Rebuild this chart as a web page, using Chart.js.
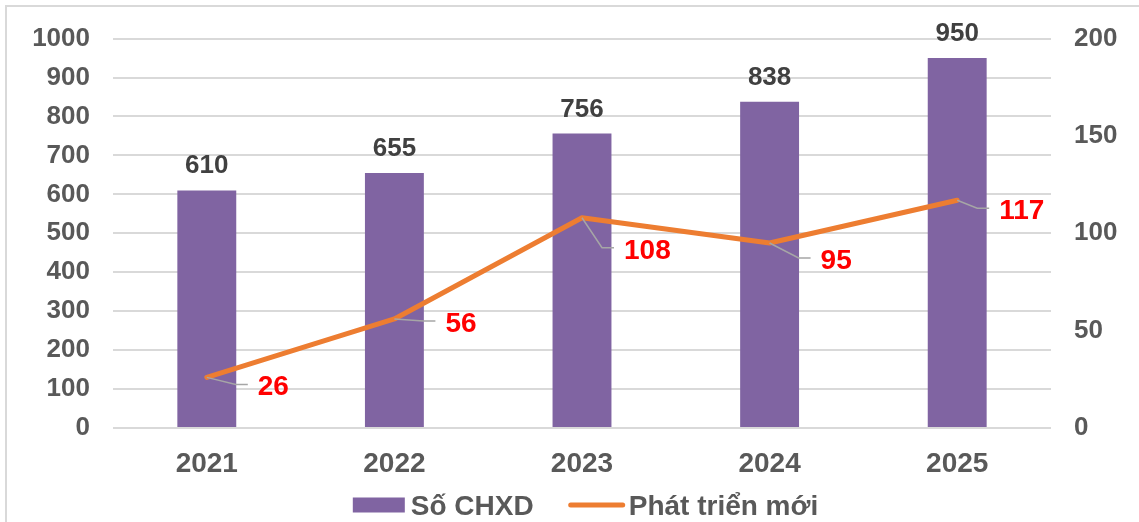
<!DOCTYPE html>
<html>
<head>
<meta charset="utf-8">
<script src="https://cdn.jsdelivr.net/npm/chart.js@4/dist/chart.umd.min.js"></script>
<style>
  html, body { margin: 0; padding: 0; background: #fff; }
  #wrap { width: 1139px; height: 522px; position: relative; }
</style>
</head>
<body>
<div id="wrap"><canvas id="c" width="1139" height="522"></canvas></div>
<script>
// ---- DATA ----
const categories = ['2021', '2022', '2023', '2024', '2025'];
const soCHXD = [610, 655, 756, 838, 950];
const phatTrienMoi = [26, 56, 108, 95, 117];
const seriesNames = ['Số CHXD', 'Phát triển mới'];
const leftTicks = [0, 100, 200, 300, 400, 500, 600, 700, 800, 900, 1000];
const rightTicks = [0, 50, 100, 150, 200];

// ---- STYLE ----
const FONT = '"Liberation Sans", Arial, sans-serif';
const C_BAR = '#8064A2';
const C_LINE = '#ED7D31';
const C_TICK = '#595959';
const C_GRID = '#D9D9D9';
// label offsets (dx to label left edge, dy to label center) from each line point
const lineLabelOffsets = [[51, 8], [51, 3], [42, 31], [51, 16], [42, 9]];

const labelsPlugin = {
  id: 'labelsPlugin',
  afterDatasetsDraw(chart) {
    const ctx = chart.ctx;
    ctx.save();
    // bar labels
    const barMeta = chart.getDatasetMeta(0);
    ctx.font = 'bold 26px ' + FONT;
    ctx.fillStyle = '#404040';
    ctx.textAlign = 'center';
    ctx.textBaseline = 'alphabetic';
    barMeta.data.forEach((el, i) => {
      ctx.fillText(String(soCHXD[i]), el.x, el.y - 17);
    });
    // line labels with leader lines
    const lineMeta = chart.getDatasetMeta(1);
    lineMeta.data.forEach((el, i) => {
      const [dx, dy] = lineLabelOffsets[i];
      const left = el.x + dx;
      const cy = el.y + dy;
      ctx.strokeStyle = '#A6A6A6';
      ctx.lineWidth = 1.5;
      ctx.beginPath();
      ctx.moveTo(el.x, el.y);
      ctx.lineTo(left - 22, cy - 1);
      ctx.lineTo(left - 10, cy - 1);
      ctx.stroke();
      ctx.font = 'bold 28px ' + FONT;
      ctx.fillStyle = '#FF0000';
      ctx.textAlign = 'left';
      ctx.textBaseline = 'alphabetic';
      ctx.fillText(String(phatTrienMoi[i]), left, cy + 10);
    });
    ctx.restore();
  },
  afterDraw(chart) {
    const ctx = chart.ctx;
    ctx.save();
    // outer frame (top & left visible)
    ctx.strokeStyle = '#D9D9D9';
    ctx.lineWidth = 2;
    ctx.beginPath();
    ctx.moveTo(6, 522);
    ctx.lineTo(6, 6);
    ctx.lineTo(1139, 6);
    ctx.stroke();
    // legend
    const ly = 505;
    ctx.font = 'bold 28px ' + FONT;
    ctx.textBaseline = 'alphabetic';
    ctx.textAlign = 'left';
    const t1w = ctx.measureText(seriesNames[0]).width;
    const t2w = ctx.measureText(seriesNames[1]).width;
    const total = 52 + 6 + t1w + 35 + 56 + 4 + t2w;
    let x = 585.5 - total / 2;
    ctx.fillStyle = C_BAR;
    ctx.fillRect(x, ly - 7.5, 52, 15);
    x += 58;
    ctx.fillStyle = C_TICK;
    ctx.fillText(seriesNames[0], x, ly + 10);
    x += t1w + 35;
    ctx.strokeStyle = C_LINE;
    ctx.lineWidth = 5;
    ctx.lineCap = 'round';
    ctx.beginPath();
    ctx.moveTo(x + 2, ly);
    ctx.lineTo(x + 54, ly);
    ctx.stroke();
    x += 60;
    ctx.fillStyle = C_TICK;
    ctx.fillText(seriesNames[1], x, ly + 10);
    ctx.restore();
  }
};

new Chart(document.getElementById('c'), {
  data: {
    labels: categories,
    datasets: [
      {
        type: 'bar',
        label: seriesNames[0],
        data: soCHXD,
        backgroundColor: C_BAR,
        yAxisID: 'y',
        barPercentage: 0.314,
        categoryPercentage: 1.0,
        order: 2
      },
      {
        type: 'line',
        label: seriesNames[1],
        data: phatTrienMoi,
        borderColor: C_LINE,
        backgroundColor: C_LINE,
        borderWidth: 5,
        pointRadius: 0,
        tension: 0,
        borderJoinStyle: 'round',
        borderCapStyle: 'round',
        yAxisID: 'y1',
        order: 1
      }
    ]
  },
  options: {
    responsive: false,
    animation: false,
    devicePixelRatio: 1,
    layout: { padding: { top: 38, bottom: 0, left: 0, right: 0 } },
    plugins: {
      legend: { display: false },
      tooltip: { enabled: false }
    },
    scales: {
      x: {
        grid: { display: false, drawTicks: false },
        border: { display: false },
        ticks: { color: C_TICK, font: { family: FONT, size: 28, weight: 'bold' }, padding: 19 },
        afterFit(scale) { scale.height = 94; }
      },
      y: {
        position: 'left',
        min: 0, max: 1000,
        afterBuildTicks(scale) { scale.ticks = leftTicks.map(v => ({ value: v })); },
        grid: { color: C_GRID, lineWidth: 2, drawTicks: false },
        border: { display: false },
        ticks: {
          color: C_TICK, font: { family: FONT, size: 26, weight: 'bold' }, padding: 23,
          callback: v => String(v)
        },
        afterFit(scale) { scale.width = 113; }
      },
      y1: {
        position: 'right',
        min: 0, max: 200,
        afterBuildTicks(scale) { scale.ticks = rightTicks.map(v => ({ value: v })); },
        grid: { display: false, drawTicks: false },
        border: { display: false },
        ticks: {
          color: C_TICK, font: { family: FONT, size: 26, weight: 'bold' }, padding: 23,
          callback: v => String(v)
        },
        afterFit(scale) { scale.width = 88; }
      }
    }
  },
  plugins: [labelsPlugin]
});
</script>
</body>
</html>
